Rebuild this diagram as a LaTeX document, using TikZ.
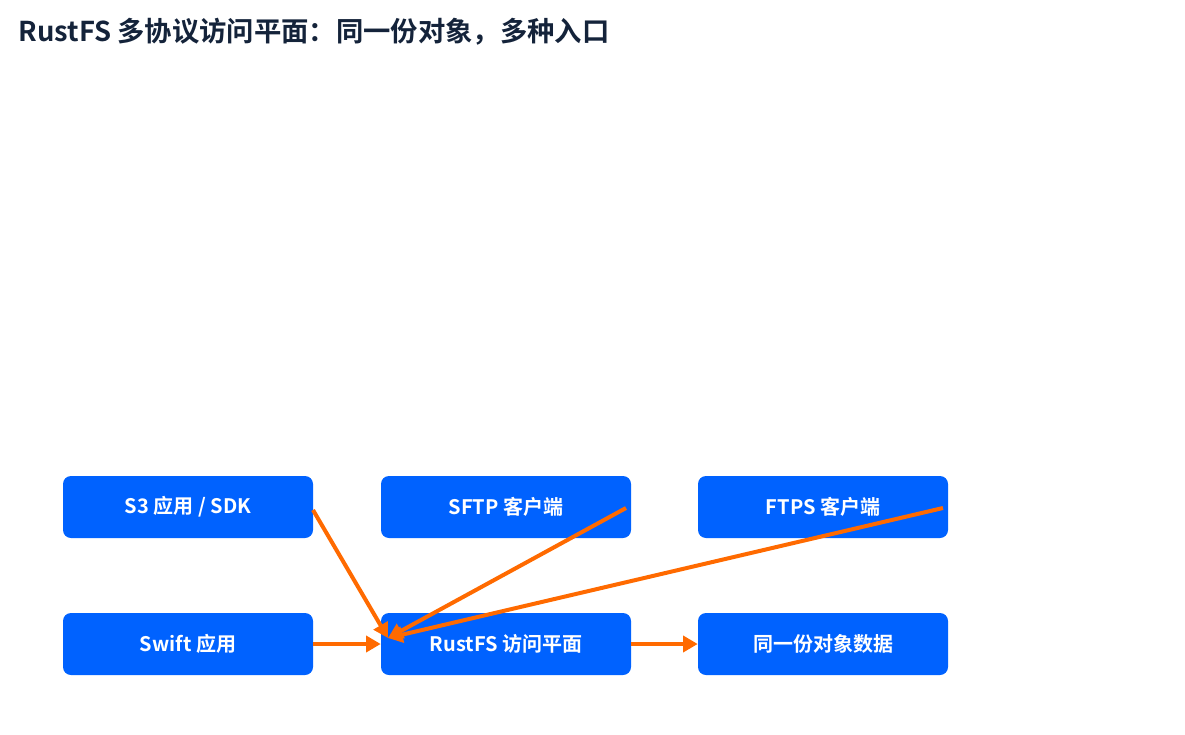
\documentclass[tikz,border=0pt]{standalone}
\usepackage{fontspec}
\setmainfont{Noto Sans CJK SC}[BoldFont={Noto Sans CJK SC Bold}]
\usetikzlibrary{arrows.meta}
\definecolor{boxblue}{HTML}{0062FF}
\definecolor{arr}{HTML}{FF6A00}
\definecolor{titlec}{HTML}{14233A}
\begin{document}
\begin{tikzpicture}[x=0.75pt,y=-0.75pt,
  box/.style={fill=boxblue,rounded corners=6pt,minimum width=187.5pt,minimum height=46.5pt,inner sep=0pt,text=white,font=\bfseries\fontsize{15}{17}\selectfont},
  link/.style={draw=arr,line width=3pt,-{Triangle[length=11pt,width=12pt]}}]
\useasboundingbox (0,0) rectangle (1185,735);
\node[anchor=west,text=titlec,font=\bfseries\fontsize{20.5}{24}\selectfont] (title) at (14,32) {RustFS 多协议访问平面：同一份对象，多种入口};
\node[box] (s3) at (188,507) {S3 应用 / SDK};
\node[box] (sftp) at (506,507) {SFTP 客户端};
\node[box] (ftps) at (823,507) {FTPS 客户端};
\node[box] (swift) at (188,644) {Swift 应用};
\node[box] (rust) at (506,644) {RustFS 访问平面};
\node[box] (data) at (823,644) {同一份对象数据};
\coordinate (hit) at (388,638);
\draw[link] (313,510) -- (hit);
\draw[link] (626,508) -- (hit);
\draw[link] (943,508) -- (hit);
\draw[link] (swift.east) -- (rust.west);
\draw[link] (rust.east) -- (data.west);
\end{tikzpicture}
\end{document}
